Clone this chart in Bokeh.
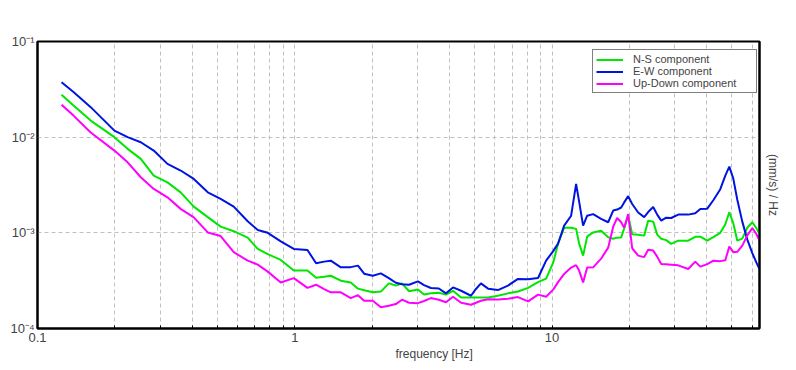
from bokeh.plotting import figure
from bokeh.models import (Range1d, FixedTicker, CustomJSTickFormatter, LogAxis, Legend,
                          LegendItem, Title)
from bokeh.embed import file_html
from bokeh.resources import INLINE

# ---------------- data ----------------
freq = [0.124, 0.138, 0.161, 0.199, 0.224, 0.252, 0.283, 0.320, 0.360, 0.405,
        0.459, 0.515, 0.579, 0.656, 0.718, 0.785, 0.882, 0.991, 1.12, 1.21,
        1.30, 1.38, 1.51, 1.65, 1.76, 1.86, 2.01, 2.16, 2.32, 2.47,
        2.61, 2.78, 3.01, 3.18, 3.38, 3.63, 3.87, 4.12, 4.43, 4.84,
        5.06, 5.29, 5.64, 6.16, 6.74, 7.37, 8.07, 8.82, 9.48, 10.1,
        10.55, 11.14, 11.86, 12.40, 12.74, 13.20, 13.69, 14.44, 15.51, 16.52,
        17.28, 17.90, 18.56, 19.06, 19.76, 20.48, 21.61, 22.80, 23.63, 24.72,
        25.62, 26.56, 27.77, 29.04, 30.92, 33.82, 36.02, 37.67, 40.11, 42.33,
        45.06, 47.13, 48.85, 50.62, 52.47, 54.87, 57.39, 60.01, 62.20, 64.0]

ns_component = [0.0277, 0.0214, 0.0149, 0.0100, 0.00755, 0.00593, 0.00396, 0.00337, 0.00265, 0.00188,
                0.00146, 0.00116, 0.00104, 0.000891, 0.000679, 0.000598, 0.000521, 0.000403, 0.000403, 0.000340,
                0.000348, 0.000356, 0.000316, 0.000303, 0.000261, 0.000251, 0.000239, 0.000243, 0.000296, 0.000281,
                0.000296, 0.000245, 0.000255, 0.000227, 0.000233, 0.000236, 0.000226, 0.000248, 0.000211, 0.000211,
                0.000211, 0.000211, 0.000211, 0.000220, 0.000233, 0.000244, 0.000266, 0.000305, 0.000332, 0.000488,
                0.000771, 0.00113, 0.00113, 0.00110, 0.000771, 0.000578, 0.000912, 0.00101, 0.00105, 0.000900,
                0.000869, 0.000891, 0.000896, 0.00111, 0.00151, 0.000968, 0.000957, 0.000935, 0.00134, 0.00131,
                0.000957, 0.000869, 0.000839, 0.000766, 0.000828, 0.000828, 0.000908, 0.000912, 0.000828, 0.000900,
                0.00100, 0.00123, 0.00164, 0.00126, 0.000828, 0.000869, 0.00113, 0.00129, 0.00112, 0.000973]

ew_component = [0.0375, 0.0297, 0.0206, 0.0117, 0.0100, 0.00885, 0.00724, 0.00526, 0.00448, 0.00366,
                0.00265, 0.00226, 0.00188, 0.00132, 0.00107, 0.00100, 0.000815, 0.000679, 0.000662, 0.000480,
                0.000500, 0.000512, 0.000436, 0.000438, 0.000454, 0.000374, 0.000356, 0.000377, 0.000336, 0.000301,
                0.000290, 0.000287, 0.000311, 0.000284, 0.000265, 0.000262, 0.000233, 0.000269, 0.000248, 0.000220,
                0.000259, 0.000296, 0.000261, 0.000252, 0.000281, 0.000330, 0.000328, 0.000337, 0.000512, 0.000644,
                0.000771, 0.00119, 0.00151, 0.00325, 0.00212, 0.00119, 0.00151, 0.00157, 0.00140, 0.00129,
                0.00171, 0.00175, 0.00184, 0.00208, 0.00242, 0.00200, 0.00163, 0.00146, 0.00165, 0.00186,
                0.00155, 0.00134, 0.00144, 0.00143, 0.00155, 0.00155, 0.00160, 0.00178, 0.00179, 0.00219,
                0.00286, 0.00396, 0.00492, 0.00369, 0.00222, 0.00131, 0.000849, 0.000614, 0.000491, 0.000419]

ud_component = [0.0218, 0.0168, 0.0112, 0.00724, 0.00546, 0.00381, 0.00288, 0.00235, 0.00178, 0.00145,
                0.00101, 0.000925, 0.000628, 0.000512, 0.000465, 0.000393, 0.000303, 0.000336, 0.000266, 0.000287,
                0.000258, 0.000239, 0.000239, 0.000208, 0.000223, 0.000195, 0.000195, 0.000167, 0.000173, 0.000180,
                0.000200, 0.000186, 0.000184, 0.000194, 0.000208, 0.000200, 0.000188, 0.000215, 0.000186, 0.000177,
                0.000186, 0.000195, 0.000202, 0.000201, 0.000205, 0.000213, 0.000192, 0.000226, 0.000215, 0.000255,
                0.000305, 0.000372, 0.000433, 0.000459, 0.000403, 0.000303, 0.000433, 0.000436, 0.000537, 0.000700,
                0.00116, 0.00143, 0.00129, 0.00113, 0.00157, 0.000690, 0.000578, 0.000557, 0.000667, 0.000652,
                0.000564, 0.000473, 0.000469, 0.000465, 0.000457, 0.000419, 0.000500, 0.000443, 0.000471, 0.000512,
                0.000506, 0.000518, 0.000718, 0.000628, 0.000634, 0.000735, 0.000940, 0.00112, 0.000973, 0.000828]

series_names = ["N-S component", "E-W component", "Up-Down component"]
series_colors = ["#00e600", "#0014e0", "#ff00ff"]

x_major_ticks = [0.1, 1, 10]
x_tick_labels = ["0.1", "1", "10"]
x_minor_ticks = [0.2, 0.3, 0.4, 0.5, 0.6, 0.7, 0.8, 0.9,
                 2, 3, 4, 5, 6, 7, 8, 9, 20, 30, 40, 50, 60]
y_major_ticks = [1e-4, 1e-3, 1e-2, 1e-1]
y_tick_labels = ["10\u207b\u2074", "10\u207b\u00b3", "10\u207b\u00b2", "10\u207b\u00b9"]

x_limits = (0.1, 64)
y_limits = (1e-4, 1e-1)

FONT = "Liberation Sans"

# ---------------- figure ----------------
p = figure(width=796, height=370, x_axis_type="log", y_axis_type="log",
           x_range=Range1d(*x_limits), y_range=Range1d(*y_limits),
           output_backend="svg", toolbar_location=None,
           min_border_left=37, min_border_right=37, min_border_top=41, min_border_bottom=42)
p.background_fill_color = "white"
p.border_fill_color = "white"
p.outline_line_color = "black"
p.outline_line_width = 2

fmt_code = """
let best = 0, bd = 1e9;
for (let i = 0; i < vals.length; i++) {
  const d = Math.abs(Math.log10(vals[i]) - Math.log10(tick));
  if (d < bd) { bd = d; best = i; }
}
return bd < 1e-6 ? labs[best] : "";
"""

xa = p.xaxis[0]
xa.ticker = FixedTicker(ticks=x_major_ticks, minor_ticks=x_minor_ticks)
xa.formatter = CustomJSTickFormatter(args=dict(vals=x_major_ticks, labs=x_tick_labels), code=fmt_code)
xa.major_tick_in = 3
xa.major_tick_out = 0
xa.minor_tick_in = 3
xa.minor_tick_out = 0
xa.axis_line_width = 2
xa.major_label_text_font = FONT
xa.major_label_text_font_size = "13px"
xa.major_label_standoff = 4

ya = p.yaxis[0]
ya.ticker = FixedTicker(ticks=y_major_ticks, minor_ticks=[])
ya.formatter = CustomJSTickFormatter(args=dict(vals=y_major_ticks, labs=y_tick_labels), code=fmt_code)
ya.major_tick_in = 0
ya.major_tick_out = 0
ya.minor_tick_in = 0
ya.minor_tick_out = 0
ya.axis_line_width = 2
ya.major_label_text_font = FONT
ya.major_label_text_font_size = "13px"
ya.major_label_standoff = 3

ra = LogAxis(ticker=FixedTicker(ticks=[]), axis_label="(mm/s) / Hz",
             major_label_text_font_size="0px", major_tick_in=0, major_tick_out=0,
             minor_tick_in=0, minor_tick_out=0, axis_line_width=2,
             major_label_standoff=0, axis_label_standoff=6,
             axis_label_text_font=FONT, axis_label_text_font_size="12px",
             axis_label_text_font_style="normal")
p.add_layout(ra, "right")

xt = Title(text="frequency [Hz]", align="left", offset=358, text_font=FONT,
           text_font_size="12px", text_font_style="normal", standoff=0)
p.add_layout(xt, "below")

p.xgrid.grid_line_color = "#c0c0c0"
p.xgrid.grid_line_dash = "4 3"
p.xgrid.minor_grid_line_color = "#c0c0c0"
p.xgrid.minor_grid_line_dash = "4 3"
p.ygrid.grid_line_color = "#c0c0c0"
p.ygrid.grid_line_dash = "4 3"

renderers = []
for vals, col in zip([ns_component, ew_component, ud_component], series_colors):
    r = p.line(freq, vals, line_color=col, line_width=2)
    renderers.append(r)

legend = Legend(items=[LegendItem(label=n, renderers=[r]) for n, r in zip(series_names, renderers)],
                location=(555, 235), orientation="vertical",
                border_line_color="black", border_line_width=1,
                background_fill_color="white", background_fill_alpha=1,
                label_text_font=FONT, label_text_font_size="11px",
                label_height=11, glyph_height=11, glyph_width=27, label_standoff=10,
                label_width=120, spacing=0, padding=3, margin=0)
p.add_layout(legend, "center")

open("out.html", "w").write(file_html(p, INLINE))
